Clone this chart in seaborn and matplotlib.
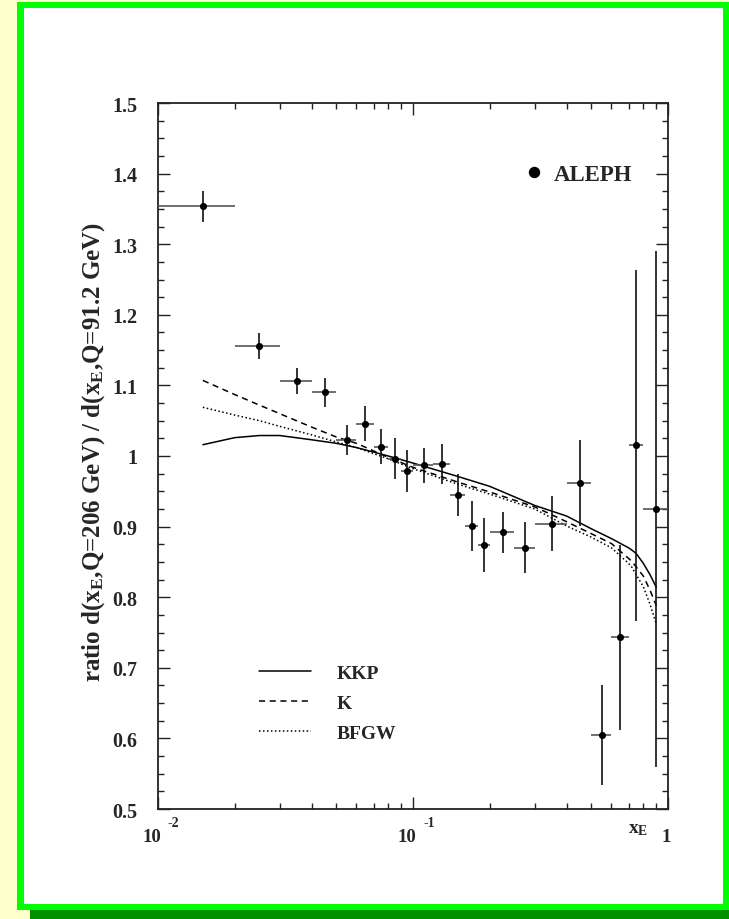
import numpy as np
import pandas as pd
import matplotlib
matplotlib.use("Agg")
import matplotlib.pyplot as plt
import seaborn as sns
from matplotlib.patches import Rectangle
from matplotlib.lines import Line2D
from matplotlib.ticker import FixedLocator, MultipleLocator, NullFormatter, LogLocator

# ---------------- data ----------------
x_lo = [0.01, 0.02, 0.03, 0.04, 0.05, 0.06, 0.07, 0.08, 0.09, 0.10, 0.12,
        0.14, 0.16, 0.18, 0.20, 0.25, 0.30, 0.40, 0.50, 0.60, 0.70, 0.80]
x_hi = [0.02, 0.03, 0.04, 0.05, 0.06, 0.07, 0.08, 0.09, 0.10, 0.12, 0.14,
        0.16, 0.18, 0.20, 0.25, 0.30, 0.40, 0.50, 0.60, 0.70, 0.80, 1.00]
x_c = [0.015, 0.025, 0.035, 0.045, 0.055, 0.065, 0.075, 0.085, 0.095, 0.11, 0.13,
       0.15, 0.17, 0.19, 0.225, 0.275, 0.35, 0.45, 0.55, 0.65, 0.75, 0.90]
ratio = [1.354, 1.156, 1.106, 1.090, 1.023, 1.046, 1.013, 0.996, 0.979, 0.987, 0.989,
         0.945, 0.901, 0.874, 0.892, 0.870, 0.904, 0.962, 0.605, 0.743, 1.015, 0.925]
ratio_err = [0.022, 0.018, 0.018, 0.020, 0.021, 0.025, 0.025, 0.029, 0.030, 0.025, 0.028,
             0.030, 0.035, 0.038, 0.029, 0.036, 0.039, 0.061, 0.071, 0.131, 0.249, 0.366]

curve_x = [0.015, 0.02, 0.025, 0.03, 0.04, 0.05, 0.06, 0.08, 0.1, 0.15, 0.2, 0.3,
           0.4, 0.5, 0.6, 0.7, 0.72, 0.75, 0.8, 0.85, 0.9]
kkp = [1.016, 1.026, 1.029, 1.029, 1.023, 1.018, 1.012, 1.000, 0.990, 0.971, 0.957, 0.930,
       0.915, 0.897, 0.883, 0.870, 0.867, 0.862, 0.848, 0.832, 0.814]
k_ff = [1.107, 1.087, 1.072, 1.060, 1.041, 1.027, 1.018, 0.998, 0.984, 0.963, 0.949, 0.928,
        0.907, 0.890, 0.876, 0.855, 0.851, 0.843, 0.830, 0.810, 0.788]
bfgw = [1.069, 1.058, 1.050, 1.042, 1.030, 1.020, 1.012, 0.996, 0.982, 0.960, 0.946, 0.925,
        0.901, 0.885, 0.870, 0.848, 0.843, 0.832, 0.815, 0.790, 0.762]

y_ticks = [0.5, 0.6, 0.7, 0.8, 0.9, 1.0, 1.1, 1.2, 1.3, 1.4, 1.5]
y_ticklabels = ["0.5", "0.6", "0.7", "0.8", "0.9", "1", "1.1", "1.2", "1.3", "1.4", "1.5"]
x_ticks = [0.01, 0.1, 1.0]
x_tick_base = ["10", "10", "1"]
x_tick_exp = ["-2", "-1", ""]
model_names = ["KKP", "K", "BFGW"]

# ---------------- style ----------------
sns.set_theme(style="ticks")
plt.rcParams["font.family"] = ["Liberation Serif", "DejaVu Serif"]
plt.rcParams["font.weight"] = "bold"
plt.rcParams["mathtext.fontset"] = "custom"
plt.rcParams["mathtext.rm"] = "Liberation Serif:bold"
plt.rcParams["mathtext.it"] = "Liberation Serif:bold"
plt.rcParams["mathtext.bf"] = "Liberation Serif:bold"
plt.rcParams["mathtext.default"] = "rm"

W, H = 729, 920
fig = plt.figure(figsize=(W / 100, H / 100), dpi=100)
fig.patch.set_facecolor("#FFFFCC")

def frect(x0, y0, x1, y1, color):
    # pixel box (top-left origin) -> figure fraction
    r = Rectangle((x0 / W, 1 - y1 / H), (x1 - x0) / W, (y1 - y0) / H,
                  transform=fig.transFigure, facecolor=color, edgecolor="none", zorder=-10)
    fig.patches.append(r)

frect(30, 911, 729, 920, "#009000")
frect(17, 3, 729, 911, "#00FF00")
frect(24, 9, 723, 905, "#FFFFFF")

ax = fig.add_axes([158 / W, 1 - 810 / H, 510 / W, 706 / H])
ax.set_facecolor("white")

# model curves
curves = pd.DataFrame({"x": curve_x * 3,
                       "y": kkp + k_ff + bfgw,
                       "model": sum([[m] * len(curve_x) for m in model_names], [])})
styles = {"KKP": "-", "K": "--", "BFGW": ":"}
for m in model_names:
    d = curves[curves["model"] == m]
    sns.lineplot(data=d, x="x", y="y", ax=ax, color="black", linewidth=1.1,
                 linestyle=styles[m], legend=False, sort=True, estimator=None)
ax.lines[1].set_dashes([4, 3])
ax.lines[2].set_dashes([1, 1.6])

# data with error bars
xc = np.array(x_c)
ax.errorbar(xc, ratio, xerr=[xc - np.array(x_lo), np.array(x_hi) - xc], fmt="none",
            ecolor="#555555", elinewidth=1.2, capsize=0, zorder=3)
ax.errorbar(xc, ratio, yerr=ratio_err, fmt="none", ecolor="#111111",
            elinewidth=1.2, capsize=0, zorder=3)
sns.scatterplot(x=x_c, y=ratio, ax=ax, color="black", s=26, edgecolor="black",
                linewidth=0, zorder=5, legend=False)

ax.set_xscale("log")
ax.set_xlim(0.01, 1.0)
ax.set_ylim(0.5, 1.5)

ax.yaxis.set_major_locator(FixedLocator(y_ticks))
ax.set_yticklabels(y_ticklabels)
ax.yaxis.set_minor_locator(MultipleLocator(0.025))
ax.xaxis.set_major_locator(FixedLocator(x_ticks))
ax.xaxis.set_minor_locator(LogLocator(base=10, subs=np.arange(2, 10)))
ax.xaxis.set_major_formatter(NullFormatter())
ax.xaxis.set_minor_formatter(NullFormatter())

ax.tick_params(which="both", direction="in", top=True, right=True, color="#222222", width=1.0)
ax.tick_params(which="major", length=8.6)
ax.tick_params(which="minor", length=4.3)
ax.tick_params(axis="y", which="major", pad=15, labelsize=14.5)
for lab in ax.get_yticklabels():
    lab.set_fontweight("bold")
for sp in ax.spines.values():
    sp.set_linewidth(1.3)
    sp.set_color("#222222")

# x tick labels "10 ^-2" style
for xv, base, ex in zip(x_ticks, x_tick_base, x_tick_exp):
    if ex:
        ax.annotate(base, xy=(xv, 0), xycoords=("data", "axes fraction"),
                    xytext=(-6.5, -32), textcoords="offset pixels",
                    ha="center", va="baseline", fontsize=13.5, fontweight="bold")
        ax.annotate(ex, xy=(xv, 0), xycoords=("data", "axes fraction"),
                    xytext=(10, -17), textcoords="offset pixels",
                    ha="left", va="baseline", fontsize=10, fontweight="bold")
    else:
        ax.annotate(base, xy=(xv, 0), xycoords=("data", "axes fraction"),
                    xytext=(-2, -32), textcoords="offset pixels",
                    ha="center", va="baseline", fontsize=13.5, fontweight="bold")

ax.set_xlabel(r"x$_{E}$", fontsize=14, fontweight="bold")
ax.xaxis.set_label_coords(0.941, -0.016)
ax.xaxis.label.set_va("top")

ax.set_ylabel(r"ratio d(x$_{E}$,Q=206 GeV) / d(x$_{E}$,Q=91.2 GeV)",
              fontsize=18, fontweight="bold")
ax.yaxis.set_label_coords(-0.1, 0.507)

# legends
handles = [Line2D([], [], color="black", linewidth=1.1, linestyle="-"),
           Line2D([], [], color="black", linewidth=1.1, dashes=[4, 3]),
           Line2D([], [], color="black", linewidth=1.1, dashes=[1, 1.6])]
leg1 = ax.legend(handles, model_names, loc="center left",
                 bbox_to_anchor=((259 - 158) / 510, (810 - 704) / 706),
                 frameon=False, handlelength=2.68, handletextpad=1.32,
                 labelspacing=0.65, borderpad=0, borderaxespad=0,
                 prop={"weight": "bold", "size": 14})
ax.add_artist(leg1)
aleph = Line2D([], [], color="black", marker="o", markersize=7.2, linestyle="none")
ax.legend([aleph], ["ALEPH"], loc="center left",
          bbox_to_anchor=((522.5 - 158) / 510, (810 - 175) / 706),
          frameon=False, handlelength=1.0, handletextpad=0.37, borderpad=0,
          borderaxespad=0, prop={"weight": "bold", "size": 16.5})

fig.savefig("out.png", dpi=100, facecolor=fig.get_facecolor())
